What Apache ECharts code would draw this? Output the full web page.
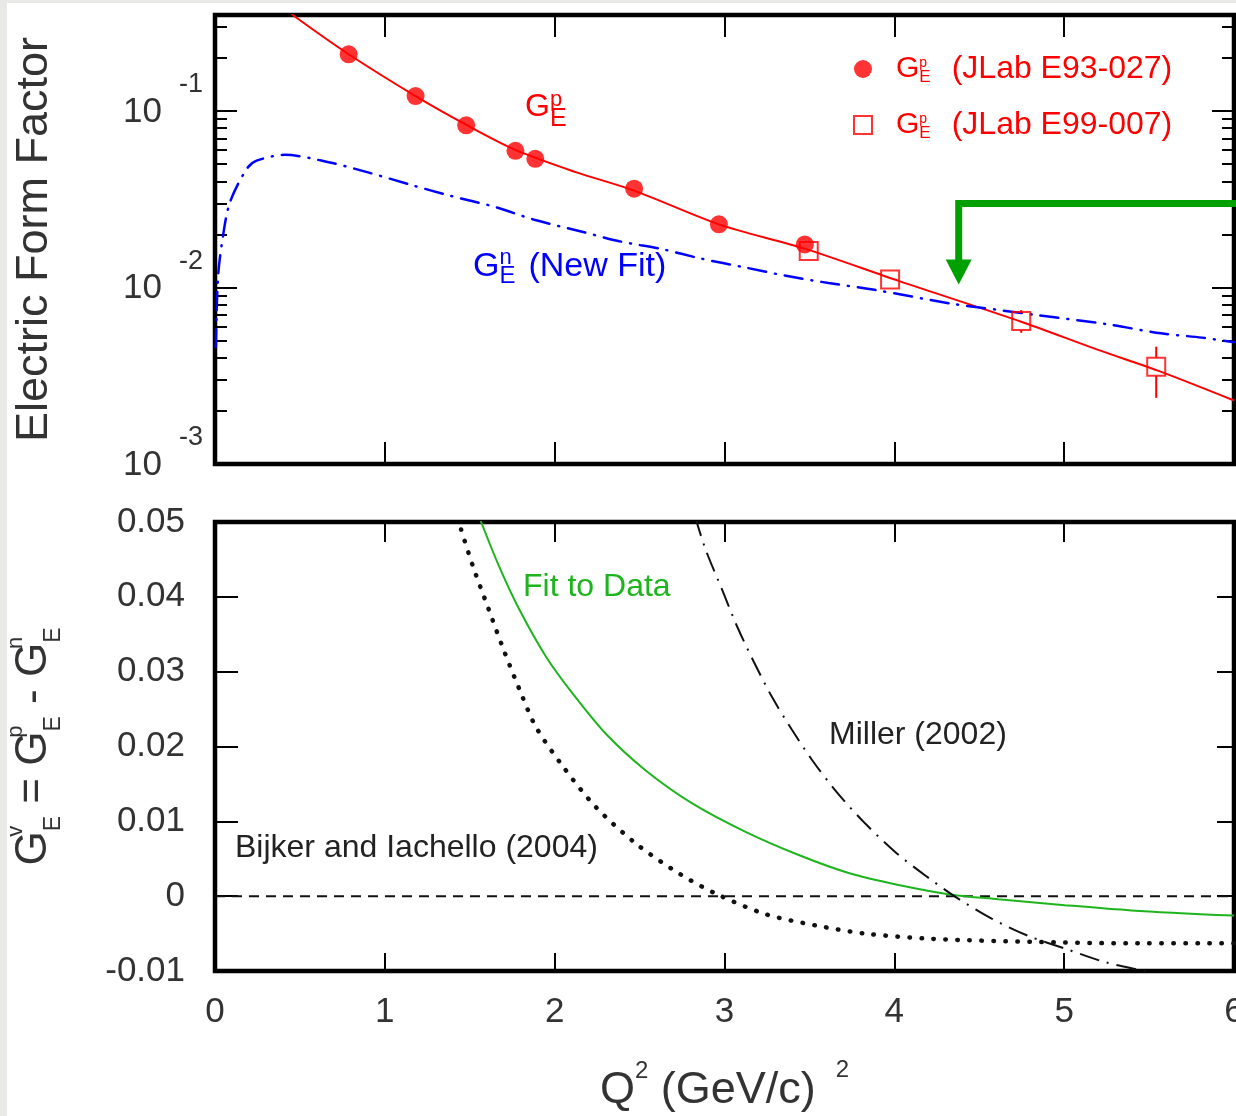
<!DOCTYPE html>
<html>
<head>
<meta charset="utf-8">
<script src="https://cdn.jsdelivr.net/npm/echarts@6/dist/echarts.min.js"></script>
<style>
  html, body { margin: 0; padding: 0; width: 1236px; height: 1116px; overflow: hidden; background: #e9e9e7; }
  #chart { position: absolute; left: 7px; top: 3px; width: 1229px; height: 1113px; background: #fff; }
</style>
</head>
<body>
<div id="chart"></div>
<script>
// ---- Upper panel: electric form factors vs Q^2 (GeV/c)^2, log scale ----
// Proton G_E fit
const gepFit = [[0.44,0.366],[0.47,0.343],[0.787,0.2097],[1.181,0.1215],[1.481,0.0834],[1.769,0.0602],
  [2.12,0.0452],[2.468,0.0354],[2.967,0.0228],[3.472,0.0166],[4.025,0.0109],[4.747,0.0064],
  [5.2,0.00443],[5.552,0.00338],[6.0,0.00229]];
// Neutron G_E (new fit)
const genFit = [[0.005,0.0046],[0.0176,0.0114],[0.045,0.019],[0.088,0.0304],[0.186,0.0469],[0.245,0.0523],
  [0.411,0.0565],[0.676,0.0511],[0.901,0.0449],[1.156,0.0381],[1.381,0.0332],[1.655,0.0285],[1.88,0.0242],
  [2.144,0.0209],[2.38,0.0183],[2.644,0.0164],[2.86,0.0146],[3.12,0.0130],[3.352,0.0117],[3.613,0.0106],
  [3.884,0.0097],[4.336,0.0081],[4.597,0.0075],[4.828,0.0070],[5.25,0.0062],[5.57,0.0055],[5.81,0.0052],[6.0,0.0049]];
// JLab E93-027 points
const e93 = [[0.787,0.2097],[1.181,0.1215],[1.479,0.0830],[1.769,0.0595],[1.886,0.0536],[2.468,0.0363],[2.967,0.0228],[3.473,0.01754]];
// JLab E99-007 points with error range [low, high]
const e99 = [[3.496,0.0161],[3.975,0.0111],[4.747,0.00646],[5.542,0.00356]];
const e99Err = [[0.0143,0.0181],[0.0104,0.0118],[0.00554,0.00745],[0.00237,0.00462]];
// log axis ticks
const logMajor = [0.001, 0.01, 0.1];
const logMinor = [0.002,0.003,0.004,0.005,0.006,0.007,0.008,0.009,0.02,0.03,0.04,0.05,0.06,0.07,0.08,0.09,0.2,0.3];
// arrow marking the crossing point: tip and the level of its horizontal run
const arrowTip = [4.379, 0.0104];
const arrowRunLevel = 0.0299;

// ---- Lower panel: G_E^v = G_E^p - G_E^n ----
const fitToData = [[1.55,0.0512],[1.567,0.0500],[1.674,0.0440],[1.792,0.0383],[1.949,0.0320],[2.105,0.0271],
  [2.301,0.0217],[2.536,0.0168],[2.81,0.0124],[3.124,0.0086],[3.437,0.0055],[3.731,0.0031],[4.025,0.0015],
  [4.338,0.0002],[4.612,-0.0004],[5.004,-0.0012],[5.395,-0.0019],[6.0,-0.0026]];
const bijker = [[1.449,0.0490],[1.52,0.0440],[1.612,0.0383],[1.70,0.0329],[1.802,0.0271],[1.89,0.0226],
  [2.05,0.0173],[2.243,0.0119],[2.48,0.0070],[2.735,0.0030],[2.952,0.0003],[3.241,-0.0024],[3.535,-0.0039],
  [3.829,-0.0050],[4.22,-0.0057],[4.806,-0.0061],[5.395,-0.0063],[6.0,-0.0063]];
const miller = [[2.827,0.0507],[2.889,0.0463],[2.987,0.0409],[3.075,0.0360],[3.173,0.0313],[3.28,0.0266],
  [3.398,0.0222],[3.525,0.0179],[3.672,0.0136],[3.829,0.0097],[4.005,0.0059],[4.18,0.0028],[4.367,-0.0002],
  [4.573,-0.0030],[4.788,-0.0053],[5.004,-0.0070],[5.239,-0.0088],[5.474,-0.0100],[5.6,-0.0107]];
const zeroLine = [[0,0],[6,0]];

const FONT = "'Liberation Sans', Arial, sans-serif";
const TXT = '#333';
const RED = '#ff0000', BLUE = '#0000ff', GREEN = '#1eb41e', DKGREEN = '#00a000';

// vertical shift of a rich-text token via padding (negative = up)
function shift(d) { return d < 0 ? [0, 0, -2 * d, 0] : [2 * d, 0, 0, 0]; }
// "G" with a stacked superscript over a subscript
function stackRich(color, gSize, supSize, supD, subSize, subD, extra, gPadLeft) {
  const r = {
    g: { fontFamily: FONT, fontSize: gSize, lineHeight: gSize, color: color, padding: [0, 0, 0, gPadLeft || 0] },
    sup: { fontFamily: FONT, fontSize: supSize, lineHeight: supSize, width: 0, padding: shift(supD), color: color },
    sub: { fontFamily: FONT, fontSize: subSize, lineHeight: subSize, padding: shift(subD), color: color }
  };
  return Object.assign(r, extra || {});
}

const tickStyle = { color: '#000', width: 2 };
function xAxisDef(grid, pos, len, labels) {
  return {
    type: 'value', gridIndex: grid, position: pos, min: 0, max: 6, interval: 1,
    axisLine: { show: false, onZero: false }, splitLine: { show: false },
    axisTick: { show: true, inside: true, length: len, lineStyle: tickStyle },
    axisLabel: labels ? { show: true, fontFamily: FONT, fontSize: 35, color: TXT, margin: 24, lineHeight: 35 } : { show: false }
  };
}
function logAxisDef(pos, values, len, labels) {
  return {
    type: 'log', gridIndex: 0, position: pos, min: 0.001, max: 0.35, logBase: 10,
    axisLine: { show: false, onZero: false }, splitLine: { show: false }, minorTick: { show: false },
    axisTick: { show: true, inside: true, length: len, lineStyle: tickStyle, customValues: values },
    axisLabel: labels ? {
      show: true, customValues: logMajor, margin: 12,
      formatter: function (v) { return '{b|10}{sp| }{s|' + Math.round(Math.log10(v)) + '}'; },
      rich: {
        b: { fontFamily: FONT, fontSize: 35, lineHeight: 35, color: TXT, padding: [2, 0, 0, 0] },
        sp: { fontFamily: FONT, fontSize: 10, lineHeight: 10, width: 17 },
        s: { fontFamily: FONT, fontSize: 27, lineHeight: 27, color: TXT, padding: [0, 0, 52, 0] }
      }
    } : { show: false }
  };
}
function diffAxisDef(pos, len, labels) {
  return {
    type: 'value', gridIndex: 1, position: pos, min: -0.01, max: 0.05, interval: 0.01,
    axisLine: { show: false, onZero: false }, splitLine: { show: false },
    axisTick: { show: true, inside: true, length: len, lineStyle: tickStyle },
    axisLabel: labels ? { fontFamily: FONT, fontSize: 35, color: TXT, margin: 30 } : { show: false }
  };
}

const legendText = { 'E93-027': 'JLab E93-027', 'E99-007': 'JLab E99-007' };

const option = {
  animation: false,
  textStyle: { fontFamily: FONT },
  grid: [
    { left: 208, top: 12, width: 1019, height: 449, show: true, borderColor: '#000', borderWidth: 4.5, backgroundColor: 'transparent', outerBoundsMode: 'none' },
    { left: 208, top: 519, width: 1019, height: 449, show: true, borderColor: '#000', borderWidth: 4.5, backgroundColor: 'transparent', outerBoundsMode: 'none' }
  ],
  legend: {
    left: 846, top: 49, orient: 'vertical', itemGap: 22, padding: 0,
    itemWidth: 18, itemHeight: 18, selectedMode: false,
    data: [
      { name: 'E93-027', icon: 'circle', itemStyle: { color: RED } },
      { name: 'E99-007', icon: 'rect', itemStyle: { color: 'rgba(0,0,0,0)', borderColor: RED, borderWidth: 2 } }
    ],
    formatter: function (name) { return '{g|G}{sup|p}{sub|E}{t|(' + legendText[name] + ')}'; },
    textStyle: {
      color: RED,
      rich: stackRich(RED, 30, 14, -5.5, 17, 8.5, {
        t: { fontFamily: FONT, fontSize: 32, lineHeight: 32, color: RED, padding: [0, 0, 0, 21] }
      }, 19)
    }
  },
  xAxis: [
    xAxisDef(0, 'bottom', 22, false),
    xAxisDef(0, 'top', 22, false),
    Object.assign(xAxisDef(1, 'bottom', 18, true), {
      name: '{b|Q}{s|2}{b| (GeV/c)}{s2|2}', nameLocation: 'middle', nameGap: 120, nameMoveOverlap: false,
      nameTextStyle: {
        verticalAlign: 'middle', align: 'center',
        rich: {
          b: { fontFamily: FONT, fontSize: 45, lineHeight: 45, color: TXT },
          s: { fontFamily: FONT, fontSize: 24, lineHeight: 24, color: TXT, padding: [0, 0, 39, 0] },
          s2: { fontFamily: FONT, fontSize: 24, lineHeight: 24, color: TXT, padding: [0, 0, 41, 20] }
        }
      }
    }),
    xAxisDef(1, 'top', 20, false)
  ],
  yAxis: [
    Object.assign(logAxisDef('left', logMajor, 22, true), {
      name: 'Electric Form Factor', nameLocation: 'middle', nameRotate: 90, nameGap: 180, nameMoveOverlap: false,
      nameTextStyle: { fontFamily: FONT, fontSize: 45, color: TXT, verticalAlign: 'middle', align: 'center' }
    }),
    logAxisDef('left', logMinor, 12, false),
    logAxisDef('right', logMajor, 22, false),
    logAxisDef('right', logMinor, 12, false),
    Object.assign(diffAxisDef('left', 23, true), {
      name: '{g|G}{sup|v}{sub|E}{g| = G}{sup|p}{sub|E}{g| - G}{sup|n}{sub|E}',
      nameLocation: 'middle', nameRotate: 90, nameGap: 181, nameMoveOverlap: false,
      nameTextStyle: { verticalAlign: 'middle', align: 'center', rich: stackRich(TXT, 44, 22, -18, 23, 19.5) }
    }),
    diffAxisDef('right', 17, false)
  ],
  series: [
    { name: 'GEp fit', type: 'line', xAxisIndex: 0, yAxisIndex: 0, data: gepFit, smooth: 0.3, showSymbol: false,
      lineStyle: { color: RED, width: 2 }, z: 2, silent: true },
    { name: 'GEn fit', type: 'line', xAxisIndex: 0, yAxisIndex: 0, data: genFit, smooth: 0.3, showSymbol: false,
      lineStyle: { color: BLUE, width: 2.5, type: [18, 9, 1, 9], cap: 'round' }, z: 2, silent: true },
    { name: 'E99-007 errors', type: 'custom', xAxisIndex: 0, yAxisIndex: 0,
      data: e99.map(function (p, i) { return [p[0], p[1], e99Err[i][0], e99Err[i][1]]; }),
      encode: { x: 0, y: [1, 2, 3] }, z: 3, silent: true,
      renderItem: function (params, api) {
        const c = api.coord([api.value(0), api.value(1)]);
        const lo = api.coord([api.value(0), api.value(2)]);
        const hi = api.coord([api.value(0), api.value(3)]);
        const h = 9, kids = [];
        if (hi[1] < c[1] - h) kids.push({ type: 'line', shape: { x1: c[0], y1: hi[1], x2: c[0], y2: c[1] - h }, style: { stroke: RED, lineWidth: 2 } });
        if (lo[1] > c[1] + h) kids.push({ type: 'line', shape: { x1: c[0], y1: c[1] + h, x2: c[0], y2: lo[1] }, style: { stroke: RED, lineWidth: 2 } });
        return { type: 'group', children: kids };
      }
    },
    { name: 'E93-027', type: 'scatter', xAxisIndex: 0, yAxisIndex: 0, data: e93, symbol: 'circle', symbolSize: 18,
      itemStyle: { color: RED }, z: 4, silent: true },
    { name: 'E99-007', type: 'scatter', xAxisIndex: 0, yAxisIndex: 0, data: e99, symbol: 'rect', symbolSize: [18, 18],
      itemStyle: { color: 'rgba(0,0,0,0)', borderColor: RED, borderWidth: 2 }, z: 4, silent: true },

    { name: 'zero', type: 'line', xAxisIndex: 2, yAxisIndex: 4, data: zeroLine, showSymbol: false,
      lineStyle: { color: '#111', width: 2, type: [10, 7] }, z: 1, silent: true },
    { name: 'Fit to Data', type: 'line', xAxisIndex: 2, yAxisIndex: 4, data: fitToData, smooth: 0.3, showSymbol: false,
      lineStyle: { color: GREEN, width: 2 }, z: 2, silent: true },
    { name: 'Bijker and Iachello (2004)', type: 'line', xAxisIndex: 2, yAxisIndex: 4, data: bijker, smooth: 0.3, showSymbol: false,
      lineStyle: { color: '#111', width: 4.5, type: [0.5, 11.5], cap: 'round' }, z: 2, silent: true },
    { name: 'Miller (2002)', type: 'line', xAxisIndex: 2, yAxisIndex: 4, data: miller, smooth: 0.3, showSymbol: false,
      lineStyle: { color: '#111', width: 2, type: [20, 8, 2, 8] }, z: 2, silent: true }
  ],
  graphic: [
    { type: 'text', x: 518, y: 104.5, silent: true,
      style: { text: '{g|G}{sup|p}{sub|E}', verticalAlign: 'middle', align: 'left', fill: RED,
        rich: stackRich(RED, 32, 22, -8, 25, 11.5) } },
    { type: 'text', x: 466, y: 263.5, silent: true,
      style: { text: '{g|G}{sup|n}{sub|E}{t|(New Fit)}', verticalAlign: 'middle', align: 'left', fill: BLUE,
        rich: stackRich(BLUE, 34, 22, -8.5, 24, 9.5, {
          t: { fontFamily: FONT, fontSize: 34, lineHeight: 34, color: BLUE, padding: [0, 0, 0, 13] } }) } },
    { type: 'text', x: 516, y: 584, silent: true,
      style: { text: 'Fit to Data', fontFamily: FONT, fontSize: 32, fill: GREEN, verticalAlign: 'middle', align: 'left' } },
    { type: 'text', x: 822, y: 732, silent: true,
      style: { text: 'Miller (2002)', fontFamily: FONT, fontSize: 32, fill: '#222', verticalAlign: 'middle', align: 'left' } },
    { type: 'text', x: 228, y: 845, silent: true,
      style: { text: 'Bijker and Iachello (2004)', fontFamily: FONT, fontSize: 32, fill: '#222', verticalAlign: 'middle', align: 'left' } }
  ]
};

const chart = echarts.init(document.getElementById('chart'), null, { renderer: 'canvas' });
chart.setOption(option);

// green arrow pointing at the crossing of the two fits
const tip = chart.convertToPixel({ xAxisIndex: 0, yAxisIndex: 0 }, arrowTip);
const run = chart.convertToPixel({ xAxisIndex: 0, yAxisIndex: 0 }, [arrowTip[0], arrowRunLevel]);
const headH = 25, headW = 13, W = chart.getWidth();
option.graphic.push(
  { type: 'polyline', silent: true, z: 10,
    shape: { points: [[W + 5, run[1]], [tip[0], run[1]], [tip[0], tip[1] - headH + 1]] },
    style: { stroke: DKGREEN, lineWidth: 7, lineJoin: 'miter', fill: null } },
  { type: 'polygon', silent: true, z: 10,
    shape: { points: [[tip[0] - headW, tip[1] - headH], [tip[0] + headW, tip[1] - headH], [tip[0], tip[1]]] },
    style: { fill: DKGREEN } }
);
chart.setOption({ graphic: option.graphic });
</script>
</body>
</html>
